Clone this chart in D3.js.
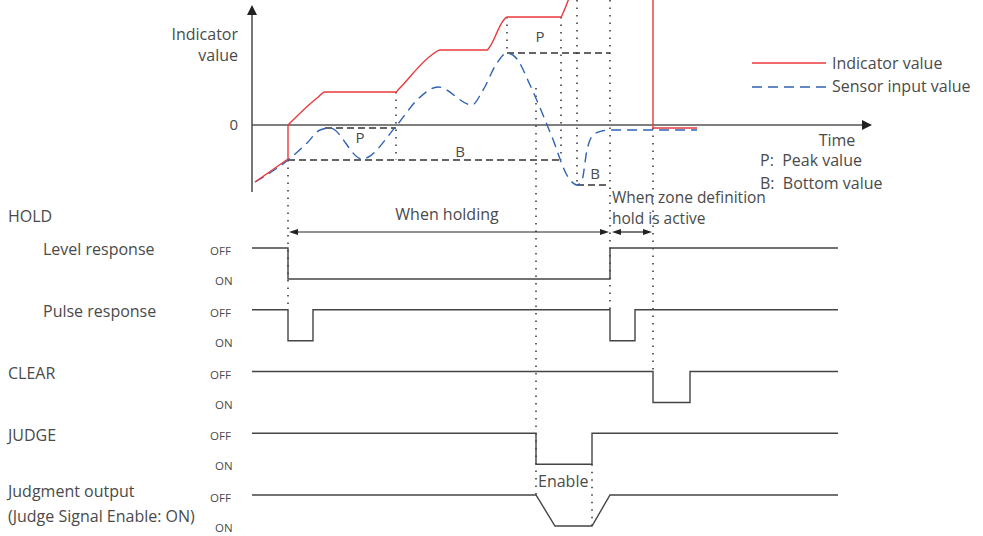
<!DOCTYPE html>
<html><head><meta charset="utf-8">
<script src="https://cdn.jsdelivr.net/npm/d3@7"></script>
<style>
body{margin:0;background:#fff}
svg{display:block}
text{font-family:"Open Sans",sans-serif;fill:#4a4a4a}
</style>
</head><body>
<svg id="c" width="983" height="536"></svg>
<script>
// ---- DATA (t = time units, v = indicator units, 0 = zero line) ----
const indicatorRamp  = [[3,-57],[36,-34]];
const indicatorJump  = [[36,-34],[36,0]];
const indicatorClimb = [[36,0],[40,4],[65,27],[73,33],[144,33],[146,35],[181,71],[188,75],[235,75],[237,77],[251,104],[255,108],[309,108],[311,112],[320,135]];
const indicatorClear = [[401,135],[401,-3],[445,-3]];
const sensorValues   = [[3,-57],[36,-35],[55,-18],[68,-5],[78,-3],[110,-34],[145,0],[165,25],[186,38],[220,20],[230,33],[245,62],[255,72],[265,66],[278,40],[300,-12],[316,-52],[325,-60],[330,-55],[335,-25],[341,-10],[350,-6],[358,-5],[445,-5]];
// hold reference lines: [label, tStart, tEnd, value, labelT, labelV]
const holdRefs = [["P",73,144,-3,108,-13],["B",36,309,-35,208,-27],["P",255,358,72,288,88],["B",325,358,-60,343,-49]];
// signal rows (1 = OFF, 0 = ON)
const signalRows   = ["Level response","Pulse response","CLEAR","JUDGE","Judgment output"];
const levelResp    = [[0,1],[36,0],[358,1],[586,1]];
const pulseResp    = [[0,1],[36,0],[61,1],[358,0],[383,1],[586,1]];
const clearSig     = [[0,1],[401,0],[438,1],[586,1]];
const judgeSig     = [[0,1],[284,0],[340,1],[586,1]];
const judgeOutput  = [[0,1],[284,1],[303,0],[340,0],[358,1],[586,1]];
const stateLabels  = ["OFF","ON"];
// ---------------------------------------------------------------

const svg = d3.select("#c");
const x = d3.scaleLinear().domain([0,620]).range([252,872]);
const y = d3.scaleLinear().domain([-67,120]).range([192,5]);
const row = d3.scalePoint().domain(signalRows).range([248,495]);
const st = d3.scaleLinear().domain([0,1]).range([31,0]);

const AX="#555", RED="#e8393b", BLUE="#2f62b3", DK="#333", FS=16;

// axes
svg.append("line").attr("x1",x(0)).attr("x2",x(0)).attr("y1",y(-67)).attr("y2",y(110)).attr("stroke",AX).attr("stroke-width",1.6);
svg.append("path").attr("d",`M${x(0)},${y(120)}L${x(0)-5},${y(110)}L${x(0)+5},${y(110)}Z`).attr("fill","#222");
svg.append("line").attr("x1",x(0)).attr("x2",x(610)).attr("y1",y(0)).attr("y2",y(0)).attr("stroke",AX).attr("stroke-width",1.6);
svg.append("path").attr("d",`M${x(620)},${y(0)}L${x(610)},${y(0)-5}L${x(610)},${y(0)+5}Z`).attr("fill","#222");

svg.append("text").attr("x",x(0)-14).attr("y",y(0)).attr("dy","0.35em").attr("text-anchor","end").attr("font-size",15).text("0");
svg.append("text").attr("x",238).attr("y",34).attr("dy","0.35em").attr("text-anchor","end").attr("font-size",FS).text("Indicator");
svg.append("text").attr("x",238).attr("y",55).attr("dy","0.35em").attr("text-anchor","end").attr("font-size",FS).text("value");
svg.append("text").attr("x",837).attr("y",140).attr("dy","0.35em").attr("text-anchor","middle").attr("font-size",FS).text("Time");
svg.append("text").attr("x",760).attr("y",160).attr("dy","0.35em").attr("font-size",FS).text("P:\u00a0 Peak value");
svg.append("text").attr("x",760).attr("y",183).attr("dy","0.35em").attr("font-size",FS).text("B:\u00a0 Bottom value");

// legend
svg.append("line").attr("x1",752).attr("x2",826).attr("y1",63).attr("y2",63).attr("stroke",RED).attr("stroke-width",1.3);
svg.append("text").attr("x",832).attr("y",63).attr("dy","0.35em").attr("font-size",FS).text("Indicator value");
svg.append("line").attr("x1",752).attr("x2",826).attr("y1",87).attr("y2",87).attr("stroke",BLUE).attr("stroke-width",1.3).attr("stroke-dasharray","10,6");
svg.append("text").attr("x",832).attr("y",86).attr("dy","0.35em").attr("font-size",FS).text("Sensor input value");

// dotted guides
const dot = (x1,y1,y2)=>svg.append("line").attr("x1",x1).attr("x2",x1).attr("y1",y1).attr("y2",y2)
  .attr("stroke",DK).attr("stroke-width",1.5).attr("stroke-dasharray","1.5,6");
dot(x(36), y(-35), row("Pulse response"));
dot(x(144), y(33), y(-35));
dot(x(255), y(108), y(72));
dot(x(309), y(108), y(-35));
dot(x(284), y(37), row("Judgment output"));
dot(x(325), y(125), y(-60));
dot(x(358), y(125), row("Pulse response"));
dot(x(401), y(-3), row("CLEAR"));
dot(x(340), row("JUDGE")+st(0), row("Judgment output")+st(0));

// hold reference lines
holdRefs.forEach(d=>{
  svg.append("line").attr("x1",x(d[1])).attr("x2",x(d[2])).attr("y1",y(d[3])).attr("y2",y(d[3]))
    .attr("stroke",DK).attr("stroke-width",1.3).attr("stroke-dasharray","7,4");
  svg.append("text").attr("x",x(d[4])).attr("y",y(d[5])).attr("dy","0.35em").attr("text-anchor","middle").attr("font-size",15).attr("fill","#555").text(d[0]);
});

// sensor
const lm = d3.line().x(d=>x(d[0])).y(d=>y(d[1])).curve(d3.curveMonotoneX);
const ll = d3.line().x(d=>x(d[0])).y(d=>y(d[1]));
svg.append("path").attr("d",lm(sensorValues)).attr("fill","none").attr("stroke",BLUE).attr("stroke-width",1.4).attr("stroke-dasharray","10,6");
// indicator
[ [indicatorRamp,ll],[indicatorJump,ll],[indicatorClimb,lm],[indicatorClear,ll] ].forEach(([d,g])=>{
  svg.append("path").attr("d",g(d)).attr("fill","none").attr("stroke",RED).attr("stroke-width",1.4);
});

// hold spans
const arrow = (x1,x2,yy)=>{
  svg.append("line").attr("x1",x1+6).attr("x2",x2-6).attr("y1",yy).attr("y2",yy).attr("stroke","#222").attr("stroke-width",1.2);
  svg.append("path").attr("d",`M${x1},${yy}L${x1+9},${yy-3}L${x1+9},${yy+3}Z`).attr("fill","#222");
  svg.append("path").attr("d",`M${x2},${yy}L${x2-9},${yy-3}L${x2-9},${yy+3}Z`).attr("fill","#222");
};
arrow(x(37),x(357),232);
arrow(x(360),x(400),232);
svg.append("text").attr("x",447).attr("y",214).attr("dy","0.35em").attr("text-anchor","middle").attr("font-size",FS).text("When holding");
svg.append("text").attr("x",612).attr("y",198).attr("dy","0.35em").attr("font-size",15.5).text("When zone definition");
svg.append("text").attr("x",612).attr("y",219).attr("dy","0.35em").attr("font-size",15.5).text("hold is active");

// signal labels
const lab = (t,xx,yy)=>svg.append("text").attr("x",xx).attr("y",yy).attr("dy","0.35em").attr("font-size",FS).text(t);
lab("HOLD",8,216);
lab("Level response",43,249);
lab("Pulse response",43,311);
lab("CLEAR",8,373);
lab("JUDGE",8,435);
lab("Judgment output",8,491);
lab("(Judge Signal Enable: ON)",8,516);

// signals
const sigs = [[levelResp,"Level response",true],[pulseResp,"Pulse response",true],[clearSig,"CLEAR",true],[judgeSig,"JUDGE",true],[judgeOutput,"Judgment output",false]];
sigs.forEach(([d,name,step])=>{
  const g = d3.line().x(p=>x(p[0])).y(p=>row(name)+st(p[1])).curve(step?d3.curveStepAfter:d3.curveLinear);
  svg.append("path").attr("d",g(d)).attr("fill","none").attr("stroke","#444").attr("stroke-width",1.4);
  svg.append("text").attr("x",210).attr("y",row(name)+st(1)+3).attr("dy","0.35em").attr("font-size",11.5).text(stateLabels[0]);
  svg.append("text").attr("x",215).attr("y",row(name)+st(0)+2).attr("dy","0.35em").attr("font-size",11.5).text(stateLabels[1]);
});
svg.append("text").attr("x",x(286)).attr("y",481).attr("dy","0.35em").attr("font-size",FS).text("Enable");
</script>
</body></html>
